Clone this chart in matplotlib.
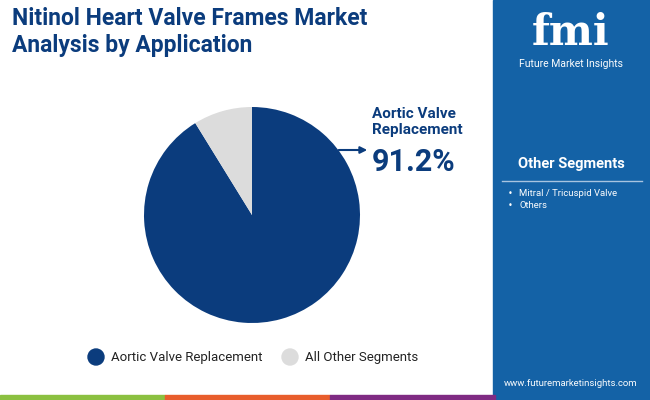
import matplotlib
matplotlib.use("Agg")
import matplotlib.pyplot as plt
from matplotlib.patches import Rectangle, Circle

categories = ["Aortic Valve Replacement", "All Other Segments"]
values = [91.2, 8.8]
colors = ["#0b3c7d", "#dcdcdc"]
other_segments = ["Mitral / Tricuspid Valve", "Others"]

W, H = 650, 400
fig = plt.figure(figsize=(W/100, H/100), dpi=100)
bg = fig.add_axes([0, 0, 1, 1]); bg.set_xlim(0, W); bg.set_ylim(H, 0); bg.axis("off")
panel = "#1462a6"
bg.add_patch(Rectangle((493, 0), W-493, H, color=panel))
for x0, c in [(0, "#8bc040"), (165, "#e85d2c"), (330, "#7f2b83")]:
    bg.add_patch(Rectangle((x0, 395), 165, 5, color=c))
bg.text(12, 32, "Nitinol Heart Valve Frames Market\nAnalysis by Application", fontsize=16.5,
        fontweight="bold", color="#0b3c7d", va="center", ha="left", family="Roboto", linespacing=1.2)
# logo
bg.text(571, 33, "fmi", fontsize=30, fontweight="bold", color="white", ha="center", va="center", family="DejaVu Serif")
bg.text(571, 64, "Future Market Insights", fontsize=7.5, color="white", ha="center", va="center", family="Roboto")
bg.text(571, 164, "Other Segments", fontsize=10.5, fontweight="bold", color="white", ha="center", va="center", family="Roboto")
bg.plot([502, 642], [181, 181], color="#a8c4e0", lw=1)
for i, s in enumerate(other_segments):
    bg.text(508, 193 + i*12, "•", fontsize=6, color="white", va="center")
    bg.text(519, 193 + i*12, s, fontsize=6.8, color="white", va="center", family="Roboto")
bg.text(571, 383, "www.futuremarketinsights.com", fontsize=6.8, color="white", ha="center", va="center", family="Roboto")
# legend
bg.add_patch(Circle((96, 357), 8, color=colors[0]))
bg.text(111, 357, categories[0], fontsize=9.5, color="#222222", va="center", family="Roboto")
bg.add_patch(Circle((290, 357), 8, color=colors[1]))
bg.text(305, 357, categories[1], fontsize=9.5, color="#222222", va="center", family="Roboto")
# annotation
bg.annotate("", xy=(370, 150), xytext=(336, 150),
            arrowprops=dict(arrowstyle="-|>", color=colors[0], lw=1.5))
bg.text(372, 122, "Aortic Valve\nReplacement", fontsize=11, fontweight="bold", color=colors[0],
        va="center", family="Roboto", linespacing=1.15)
bg.text(372, 162, f"{values[0]}%", fontsize=22, fontweight="bold", color=colors[0],
        va="center", family="Roboto")

ax = fig.add_axes([(252-108)/W, 1-(215+108)/H, 216/W, 216/H])
ax.pie(values, colors=colors, startangle=90, counterclock=False)
ax.set_xlim(-1, 1); ax.set_ylim(-1, 1)
ax.set_aspect("equal")
fig.savefig("out.png", dpi=100)
